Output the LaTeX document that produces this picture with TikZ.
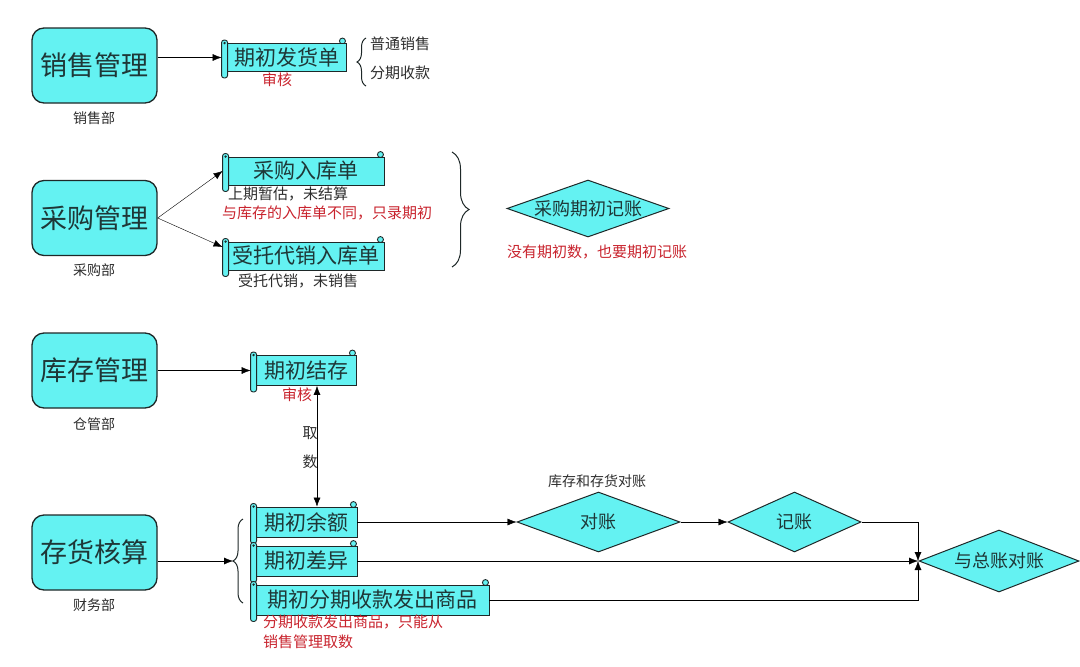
\documentclass[tikz,border=0pt]{standalone}
\usepackage{fontspec}
\setmainfont{Noto Sans CJK SC}
\usetikzlibrary{arrows.meta,decorations.pathreplacing,shapes.geometric,calc}
\pgfdeclarelayer{bg}
\pgfsetlayers{bg,main}
\definecolor{cy}{RGB}{100,242,242}
\definecolor{ln}{RGB}{30,40,40}
\definecolor{tx}{RGB}{30,55,55}
\definecolor{rd}{RGB}{200,35,45}
\definecolor{gy}{RGB}{45,45,45}
\newcommand\scrolldeco[1]{%
 \begin{pgfonlayer}{bg}\draw[line width=0.9pt,draw=ln,fill=cy] ([xshift=-4pt,yshift=2pt]#1.north east) circle (3pt);\end{pgfonlayer}
 \draw[line width=0.9pt,draw=ln,fill=cy,rounded corners=2.5pt] ([yshift=3pt]#1.north west) rectangle ([xshift=6pt,yshift=-6pt]#1.south west);
 \fill[ln] ([xshift=3pt]#1.north west) circle (1.3pt);
}
\begin{document}
\begin{tikzpicture}[x=1pt,y=-1pt,line width=1.1pt,
  >={Latex[length=9pt,width=7pt]},
  bigbox/.style={draw=ln,line width=1.3pt,fill=cy,rounded corners=12pt,minimum width=125pt,minimum height=75pt,inner sep=0pt,text=tx,font=\fontsize{27}{30}\selectfont},
  scrollbox/.style={draw=ln,line width=0.9pt,fill=cy,minimum height=28pt,inner sep=0pt,text=tx,font=\fontsize{21}{24}\selectfont},
  dia/.style={diamond,draw=ln,line width=1pt,fill=cy,inner sep=0pt,text=tx,font=\fontsize{18}{20}\selectfont},
  lbl/.style={font=\fontsize{14}{16}\selectfont,text=gy,inner sep=0pt},
  lblb/.style={font=\fontsize{15}{17}\selectfont,text=gy,inner sep=0pt},
  redlbl/.style={font=\fontsize{15}{17}\selectfont,text=rd,inner sep=0pt},
  brace/.style={decorate,draw=ln,line width=1pt}]
\useasboundingbox (0,0) rectangle (1080,667);

% big boxes
\node[bigbox] (xs) at (94.5,65.5) {销售管理};
\node[bigbox] (cg) at (94.5,218) {采购管理};
\node[bigbox] (kc) at (94.5,370.5) {库存管理};
\node[bigbox] (ch) at (94.5,552.5) {存货核算};
\node[lbl] (lxs) at (94,118) {销售部};
\node[lbl] (lcg) at (94,270) {采购部};
\node[lbl] (lkc) at (94,424) {仓管部};
\node[lbl] (lch) at (94,605) {财务部};

% scrolls
\node[scrollbox,minimum width=124pt] (s1) at (284,57.5) {\hspace{5pt}期初发货单}; \scrolldeco{s1}
\node[scrollbox,minimum width=161pt] (s2) at (303.5,171) {\hspace{5pt}采购入库单}; \scrolldeco{s2}
\node[scrollbox,minimum width=161pt] (s3) at (303.5,256) {\hspace{5pt}受托代销入库单}; \scrolldeco{s3}
\node[scrollbox,minimum width=105pt,minimum height=30pt] (s4) at (303.5,370.5) {\hspace{5pt}期初结存}; \scrolldeco{s4}
\node[scrollbox,minimum width=106pt,minimum height=30pt] (s5) at (304,522) {\hspace{5pt}期初余额}; \scrolldeco{s5}
\node[scrollbox,minimum width=106pt,minimum height=30pt] (s6) at (304,561) {\hspace{5pt}期初差异}; \scrolldeco{s6}
\node[scrollbox,minimum width=238pt,minimum height=30pt] (s7) at (370,600) {\hspace{5pt}期初分期收款发出商品}; \scrolldeco{s7}

% labels near scrolls
\node[redlbl] (a1) at (277,80) {审核};
\node[lblb] (p1) at (400,44) {普通销售};
\node[lblb] (p2) at (400,73) {分期收款};
\node[lblb] (c1) at (288,194) {上期暂估，未结算};
\node[redlbl] (c2) at (327,213) {与库存的入库单不同，只录期初};
\node[lblb] (c3) at (298,281) {受托代销，未销售};
\node[redlbl] (a2) at (297,395) {审核};
\node[lblb] (q1) at (310,433) {取};
\node[lblb] (q2) at (310,462) {数};
\node[redlbl,anchor=west] (r1) at (263,622) {分期收款发出商品，只能从};
\node[redlbl,anchor=west] (r2) at (263,642) {销售管理取数};

% braces
\draw[brace,decoration={brace,amplitude=9pt}] (366,86) -- (366,38);
\draw[brace,decoration={brace,amplitude=17pt}] (452,152) -- (452,267);
\draw[brace,decoration={brace,amplitude=10pt}] (243,603) -- (243,519);
\coordinate (bt) at (233,561);

% diamonds
\node[dia,aspect=3.2,minimum width=162pt,minimum height=57pt] (d1) at (588,208.5) {采购期初记账};
\node[redlbl] (d1l) at (597,252) {没有期初数，也要期初记账};
\node[lbl] (t1) at (597,481) {库存和存货对账};
\node[dia,aspect=2.7,minimum width=163pt,minimum height=60pt] (d2) at (598.5,522) {对账};
\node[dia,aspect=2.2,minimum width=133pt,minimum height=60pt] (d3) at (794.5,522) {记账};
\node[dia,aspect=3,minimum width=160pt,minimum height=62pt] (d4) at (999,561) {与总账对账};
\coordinate (j) at (918,561);
\coordinate (qx) at (317,0);

% connectors
\draw[->] (xs.east |- s1.west) -- (s1.west);
\draw[->] (cg.east) -- (s2.west);
\draw[->] (cg.east) -- ([yshift=9pt]s3.west);
\draw[->] (kc.east) -- (s4.west);
\draw[<->] (s4.south -| qx) -- (s5.north -| qx);
\draw[->] (ch.east |- bt) -- (bt);
\draw[->] (s5.east) -- (d2.west);
\draw[->] (d2.east) -- (d3.west);
\draw[->] (d3.east) -| (j);
\draw[->] (s6.east) -- (j);
\draw[->] (s7.east) -| (j);
\end{tikzpicture}
\end{document}
